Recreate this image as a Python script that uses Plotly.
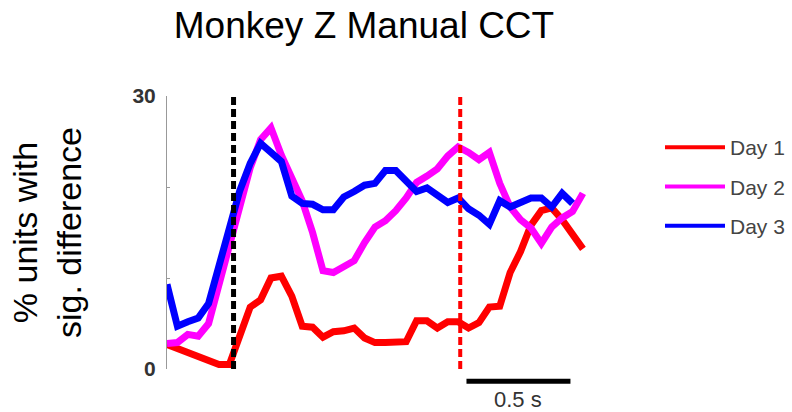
import plotly.graph_objects as go

# time bins (s, relative to cue onset)
times = [-0.32, -0.27, -0.22, -0.17, -0.12, -0.07, -0.02, 0.03, 0.08, 0.13,
         0.18, 0.23, 0.28, 0.33, 0.38, 0.43, 0.48, 0.53, 0.58, 0.63,
         0.68, 0.73, 0.78, 0.83, 0.88, 0.93, 0.98, 1.03, 1.08, 1.13,
         1.18, 1.23, 1.28, 1.33, 1.38, 1.43, 1.48, 1.53, 1.58, 1.63, 1.68]

day1 = [2.7, 2.3, 1.8, 1.3, 1.0, 0.5, 0.5, 3.5, 6.8, 7.6,
        10.0, 10.2, 8.0, 4.7, 4.6, 3.5, 4.1, 4.2, 4.5, 3.4,
        2.9, 2.9, 2.9, 3.0, 5.3, 5.3, 4.5, 5.2, 5.2, 4.5,
        5.1, 6.8, 6.9, 10.6, 12.9, 15.8, 17.4, 17.7, 16.4, 14.9, 13.2]

day2 = [2.8, 2.9, 3.8, 3.6, 5.0, 9.3, 13.5, 18.2, 22.1, 25.2,
        26.5, 23.5, 21.0, 18.5, 15.0, 10.8, 10.6, 11.2, 11.9, 13.9,
        15.6, 16.3, 17.4, 18.8, 20.5, 21.2, 22.0, 23.4, 24.4, 23.8,
        23.0, 23.8, 20.4, 17.8, 16.4, 15.5, 13.8, 15.6, 16.6, 17.3, 19.3]

day3 = [9.3, 4.7, 5.2, 5.6, 7.2, 11.3, 14.8, 19.6, 22.6, 24.8,
        23.8, 22.8, 19.0, 18.2, 18.1, 17.5, 17.5, 18.9, 19.5, 20.2,
        20.4, 21.8, 21.8, 20.7, 19.5, 19.9, 19.2, 18.3, 18.8, 17.6,
        16.9, 15.9, 18.5, 17.8, 18.3, 18.8, 18.8, 17.8, 19.3, 18.2, None]

series_names = ["Day 1", "Day 2", "Day 3"]
series_colors = ["#ff0000", "#ff00ff", "#0000ff"]

cue_time = 0.0
event_time = 1.09
scale_start = 1.12
scale_len = 0.5
y_ticks = [0, 10, 20, 30]
y_ticktext = ["0", "", "", "30"]

FONT = "Liberation Sans, Arial, Helvetica, sans-serif"

fig = go.Figure()
for name, vals, col in zip(series_names, [day1, day2, day3], series_colors):
    fig.add_trace(go.Scatter(x=times, y=vals, mode="lines", name=name,
                             line=dict(color=col, width=7),
                             showlegend=False, hoverinfo="skip"))
# legend entries (thinner sample lines)
for i, (name, col) in enumerate(zip(series_names, series_colors)):
    fig.add_trace(go.Scatter(x=[None], y=[None], mode="lines", name=name,
                             legendgroup=f"g{i}",
                             line=dict(color=col, width=4)))

fig.add_shape(type="line", xref="x", yref="y", x0=cue_time, x1=cue_time, y0=0, y1=30,
              line=dict(color="black", width=5, dash="8px,4px"))
fig.add_shape(type="line", xref="x", yref="y", x0=event_time, x1=event_time, y0=0, y1=30,
              line=dict(color="#ff0000", width=4, dash="8px,4px"))
# scale bar
fig.add_shape(type="line", xref="x", yref="paper", x0=scale_start, x1=scale_start + scale_len,
              y0=-0.045, y1=-0.045, line=dict(color="black", width=5))
fig.add_annotation(x=scale_start + scale_len / 2, xref="x", y=-0.112, yref="paper",
                   text=f"{scale_len} s", showarrow=False,
                   font=dict(family=FONT, size=22, color="#333333"),
                   xanchor="center", yanchor="middle")

fig.update_layout(
    width=792, height=412,
    margin=dict(l=167, r=202, t=96, b=43, autoexpand=False),
    paper_bgcolor="white", plot_bgcolor="white",
    title=dict(text="Monkey Z Manual CCT", x=364 / 792, xanchor="center",
               y=1 - 25 / 412, yanchor="middle",
               font=dict(family=FONT, size=37, color="black")),
    showlegend=True,
    legend=dict(xref="container", yref="container", x=660 / 792, y=1 - 127 / 412,
                xanchor="left", yanchor="top",
                font=dict(family=FONT, size=21, color="#444444"),
                tracegroupgap=9, itemwidth=60, bgcolor="rgba(0,0,0,0)"),
    xaxis=dict(range=[-0.32, 1.714], visible=False, showgrid=False, zeroline=False),
    yaxis=dict(range=[0, 30], tickvals=y_ticks, ticktext=y_ticktext,
               ticks="inside", ticklen=3, tickcolor="#999999",
               showline=True, linecolor="#999999", linewidth=1,
               showgrid=False, zeroline=False, ticklabelstandoff=6,
               tickfont=dict(family=FONT, size=21, color="#333333", weight="bold"),
               title=dict(text="% units with<br>sig. difference", standoff=40,
                          font=dict(family=FONT, size=34, color="black"))),
)

fig.write_html("out.html")
